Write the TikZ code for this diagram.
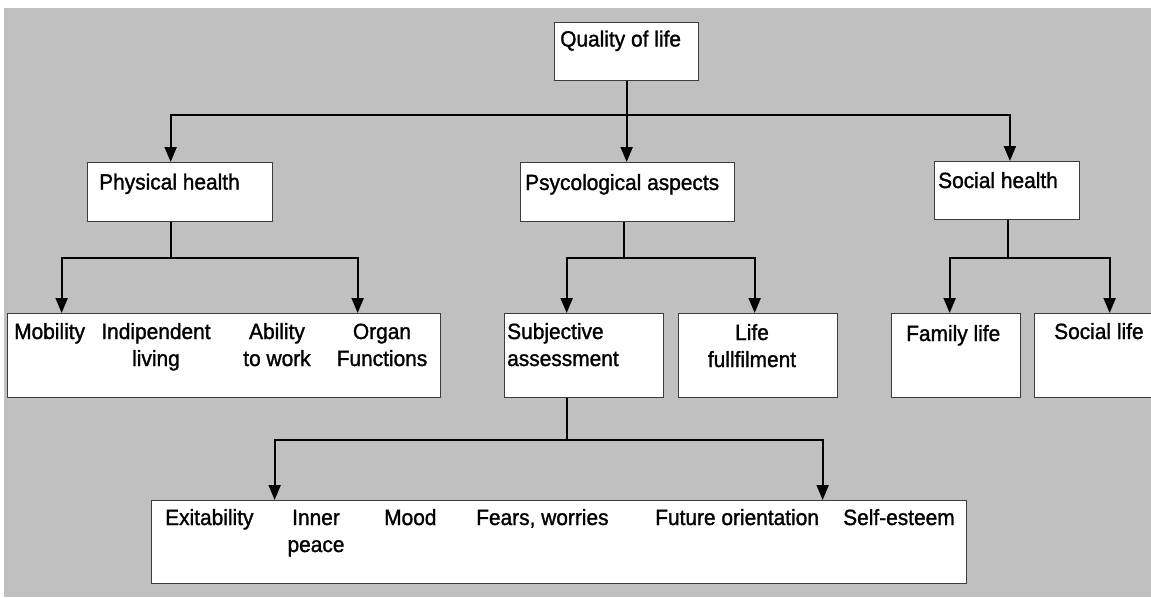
\documentclass[tikz,border=0pt]{standalone}
\usepackage{fontspec}
\setmainfont{Liberation Sans}[FakeStretch=0.95,FakeBold=1.3]
\usetikzlibrary{arrows.meta,calc}
\definecolor{bggray}{RGB}{192,192,192}
\definecolor{boxline}{RGB}{60,60,60}
\begin{document}
\begin{tikzpicture}[x=1pt,y=-1pt,
  box/.style={draw=boxline,fill=white,line width=1.3pt,inner sep=0pt,anchor=north west},
  conn/.style={line width=2pt,black},
  arr/.style={conn,-{Triangle[length=15pt,width=12pt]}},
  lbl/.style={inner sep=0pt,font=\fontsize{22}{27}\selectfont,anchor=base west},
  lblc/.style={inner sep=0pt,font=\fontsize{22}{27}\selectfont,anchor=base,align=center}]
\useasboundingbox (0,0) rectangle (1151,597);
\fill[white] (0,0) rectangle (1151,597);
\fill[bggray] (4,8) rectangle (1151,597);
% boxes
\node[box,minimum width=144pt,minimum height=58pt] (q) at (554,22) {};
\node[box,minimum width=185pt,minimum height=59pt] (ph) at (87,162) {};
\node[box,minimum width=214pt,minimum height=59pt] (pa) at (520,162) {};
\node[box,minimum width=144.5pt,minimum height=58pt] (sh) at (934,161) {};
\node[box,minimum width=433pt,minimum height=84pt] (phc) at (7,313) {};
\node[box,minimum width=159pt,minimum height=84pt] (sa) at (504,313) {};
\node[box,minimum width=159pt,minimum height=84pt] (lf) at (678,313) {};
\node[box,minimum width=129pt,minimum height=84pt] (fl) at (891,313) {};
\node[box,minimum width=150pt,minimum height=84pt] (sl) at (1034,313) {};
\node[box,minimum width=815pt,minimum height=83pt] (bot) at (151,500) {};
% labels (multi-line nodes are placed by the baseline of their last line)
\node[lbl] (tq) at (560,46.5) {Quality of life};
\node[lbl] (tph) at (99,189.5) {Physical health};
\node[lbl] (tpa) at (525,190) {Psycological aspects};
\node[lbl] (tsh) at (938,188) {Social health};
\node[lbl] (tmob) at (14,339) {Mobility};
\node[lblc] (tind) at (156,366) {Indipendent\\living};
\node[lblc] (tabl) at (277,366) {Ability\\to work};
\node[lblc] (torg) at (382,366) {Organ\\Functions};
\node[lbl,align=left] (tsa) at (507,366) {Subjective\\assessment};
\node[lblc] (tlf) at (752,367) {Life\\fullfilment};
\node[lbl] (tfl) at (906,341) {Family life};
\node[lbl] (tsl) at (1054,339) {Social life};
\node[lbl] (tex) at (165,525) {Exitability};
\node[lblc] (tin) at (316,552) {Inner\\peace};
\node[lbl] (tmo) at (384,525) {Mood};
\node[lbl] (tfw) at (476,525) {Fears, worries};
\node[lbl] (tfo) at (655,525) {Future orientation};
\node[lbl] (tse) at (843,525) {Self-esteem};
% connectors
\coordinate (j1) at ($(q.south)+(0,34)$);
\draw[arr] (q.south) -- (q.south |- pa.north);
\draw[arr] (j1) -| ([xshift=-9.5pt]ph.north);
\draw[arr] (j1) -| ([xshift=3pt]sh.north);
\coordinate (j2) at ($([xshift=-9.5pt]ph.south)+(0,36)$);
\draw[conn] ([xshift=-9.5pt]ph.south) -- (j2);
\draw[arr] (j2) -| ([xshift=-162.5pt]phc.north);
\draw[arr] (j2) -| ([xshift=133.5pt]phc.north);
\coordinate (j3) at ($([xshift=-4pt]pa.south)+(0,36)$);
\draw[conn] ([xshift=-4pt]pa.south) -- (j3);
\draw[arr] (j3) -| ([xshift=-17.5pt]sa.north);
\draw[arr] (j3) -| ([xshift=-3.5pt]lf.north);
\coordinate (j4) at ($([xshift=1pt]sh.south)+(0,38)$);
\draw[conn] ([xshift=1pt]sh.south) -- (j4);
\draw[arr] (j4) -| ([xshift=-6.5pt]fl.north);
\draw[arr] (j4) -| (sl.north);
\coordinate (j5) at ($([xshift=-17.5pt]sa.south)+(0,42)$);
\draw[conn] ([xshift=-17.5pt]sa.south) -- (j5);
\draw[arr] (j5) -| ([xshift=-284.5pt]bot.north);
\draw[arr] (j5) -| ([xshift=263.5pt]bot.north);
\end{tikzpicture}
\end{document}
